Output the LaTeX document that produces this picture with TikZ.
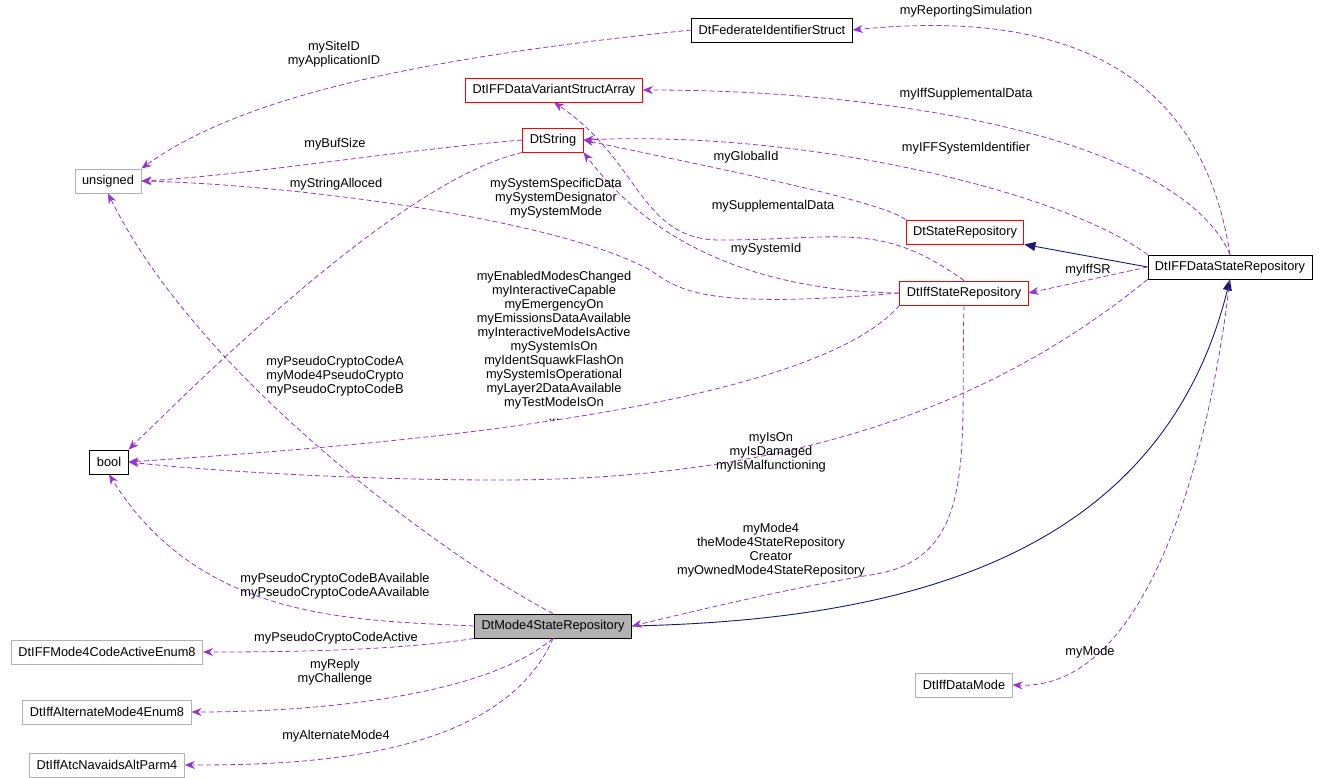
\documentclass[tikz,border=0pt]{standalone}
\usepackage{fontspec}
\setmainfont{Liberation Sans}
\usetikzlibrary{arrows.meta}
\definecolor{dep}{HTML}{9A32CD}
\definecolor{inh}{HTML}{191970}
\begin{document}
\begin{tikzpicture}[x=1pt,y=-1pt,
  font=\fontsize{12.8}{14}\selectfont,
  box/.style={draw=black,fill=white,minimum height=24pt,inner xsep=7pt,inner ysep=0pt,anchor=center,line width=0.9pt},
  redb/.style={box,draw=red},
  grayb/.style={box,draw=black!30},
  dp/.style={draw=dep,dashed,line width=0.8pt,dash pattern=on 5pt off 3pt,-{Stealth[length=10pt,width=8pt]},dep},
  ih/.style={draw=inh,line width=0.9pt,-{Triangle[length=11pt,width=9pt]}},
  lb/.style={align=center,fill=none,inner sep=0pt}]
\useasboundingbox (0,0) rectangle (1325,777);
\node[box] (fed) at (772,30) {DtFederateIdentifierStruct};
\node[redb] (var) at (554,90) {DtIFFDataVariantStructArray};
\node[redb] (str) at (553,140) {DtString};
\node[grayb] (uns) at (108,181) {unsigned};
\node[redb] (sr) at (965,232) {DtStateRepository};
\node[box] (ids) at (1230,267) {DtIFFDataStateRepository};
\node[redb] (isr) at (964,293) {DtIffStateRepository};
\node[box] (bool) at (109,462) {bool};
\node[box,fill=black!30] (m4) at (553,626) {DtMode4StateRepository};
\node[grayb] (cae) at (107,652) {DtIFFMode4CodeActiveEnum8};
\node[grayb] (alt) at (107,712) {DtIffAlternateMode4Enum8};
\node[grayb] (atc) at (107,765) {DtIffAtcNavaidsAltParm4};
\node[grayb] (dm) at (964,685) {DtIffDataMode};

\draw[ih] (ids.west) -- (sr.south east);
\draw[ih] (m4.east) .. controls (900,620) and (1160,560) .. (ids.south);

\draw[dp] (fed.west) .. controls (450,55) and (250,90) .. (uns.north east);
\node[lb] at (334,54) {mySiteID\\myApplicationID};
\draw[dp] (ids.north) .. controls (1200,60) and (1050,10) .. (fed.east);
\node[lb] at (966,11) {myReportingSimulation};
\draw[dp] (ids.north) .. controls (1180,140) and (900,90) .. (var.east);
\node[lb] at (966,94) {myIffSupplementalData};
\draw[dp] (ids.north west) .. controls (1060,190) and (800,130) .. (str.east);
\node[lb] at (966,148) {myIFFSystemIdentifier};
\draw[dp] (str.west) .. controls (400,150) and (250,175) .. (uns.east);
\node[lb] at (335,144) {myBufSize};
\draw[dp] (str.south west) .. controls (400,180) and (200,380) .. (bool.north east);
\node[lb] at (336,184) {myStringAlloced};
\draw[dp] (sr.north west) .. controls (880,200) and (700,165) .. (str.east);
\node[lb] at (746,157) {myGlobalId};
\draw[dp] (isr.north) .. controls (880,220) and (840,240) .. (720,240) .. controls (640,240) and (640,160) .. (var.south);
\node[lb] at (773,206) {mySupplementalData};
\draw[dp] (isr.west) .. controls (700,290) and (620,200) .. (str.south east);
\node[lb] at (766,249) {mySystemId};
\draw[dp] (isr.west) .. controls (700,310) and (680,290) .. (650,270) .. controls (560,220) and (300,185) .. (uns.east);
\node[lb] at (556,198) {mySystemSpecificData\\mySystemDesignator\\mySystemMode};
\draw[dp] (ids.west) -- (isr.east);
\node[lb] at (1088,270) {myIffSR};
\draw[dp] (isr.south west) .. controls (800,420) and (300,450) .. (bool.east);
\node[lb] at (554,346) {myEnabledModesChanged\\myInteractiveCapable\\myEmergencyOn\\myEmissionsDataAvailable\\myInteractiveModeIsActive\\mySystemIsOn\\myIdentSquawkFlashOn\\mySystemIsOperational\\myLayer2DataAvailable\\myTestModeIsOn\\...};
\draw[dp] (ids.south west) .. controls (1000,400) and (800,480) .. (500,480) .. controls (350,480) and (200,470) .. (bool.east);
\node[lb] at (771,452) {myIsOn\\myIsDamaged\\myIsMalfunctioning};
\draw[dp] (isr.south) .. controls (960,450) and (980,560) .. (870,575) .. controls (780,590) and (700,610) .. (m4.east);
\node[lb] at (771,550) {myMode4\\theMode4StateRepository\\Creator\\myOwnedMode4StateRepository};
\draw[dp] (m4.north) .. controls (450,560) and (200,380) .. (uns.south);
\node[lb] at (335,376) {myPseudoCryptoCodeA\\myMode4PseudoCrypto\\myPseudoCryptoCodeB};
\draw[dp] (m4.west) .. controls (350,620) and (200,620) .. (bool.south);
\node[lb] at (335,586) {myPseudoCryptoCodeBAvailable\\myPseudoCryptoCodeAAvailable};
\draw[dp] (m4.south west) .. controls (400,650) and (300,652) .. (cae.east);
\node[lb] at (336,638) {myPseudoCryptoCodeActive};
\draw[dp] (m4.south) .. controls (480,700) and (300,712) .. (alt.east);
\node[lb] at (335,672) {myReply\\myChallenge};
\draw[dp] (m4.south) .. controls (500,760) and (300,765) .. (atc.east);
\node[lb] at (336,736) {myAlternateMode4};
\draw[dp] (ids.south) .. controls (1210,450) and (1150,690) .. (dm.east);
\node[lb] at (1090,652) {myMode};
\end{tikzpicture}
\end{document}
